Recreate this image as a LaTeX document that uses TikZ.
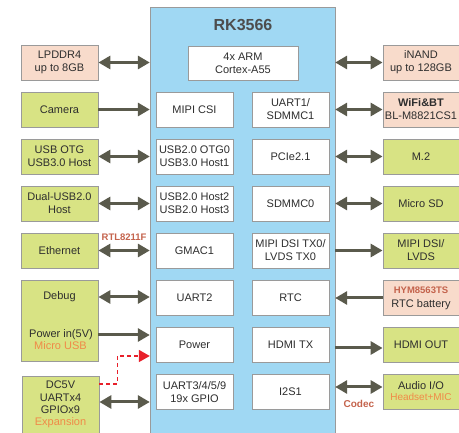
\documentclass[tikz,border=0pt]{standalone}
\usepackage{fontspec}
\setmainfont{Liberation Sans}
\usetikzlibrary{arrows.meta,calc}

\definecolor{chipblue}{HTML}{A0D8F3}
\definecolor{boxgreen}{HTML}{D8E384}
\definecolor{boxpeach}{HTML}{F8DBCB}
\definecolor{edgegray}{HTML}{9A9A9A}
\definecolor{arrowgray}{HTML}{5A5A4C}
\definecolor{txtgray}{HTML}{2E2E2E}
\definecolor{labelred}{HTML}{C4634C}
\definecolor{noteorange}{HTML}{F08A48}
\definecolor{dashred}{HTML}{E8202A}

\tikzset{
  blk/.style={draw=edgegray, line width=0.8pt, minimum width=77pt, minimum height=35pt,
    inner sep=0pt, align=center, text=txtgray, font=\fontsize{11}{13}\selectfont},
  inblk/.style={blk, fill=white},
  grnblk/.style={blk, fill=boxgreen},
  pchblk/.style={blk, fill=boxpeach},
  link/.style={arrowgray, line width=3pt, -{Triangle[length=12pt,width=13pt]}},
  dlink/.style={link, {Triangle[length=12pt,width=13pt]}-{Triangle[length=12pt,width=13pt]}},
  tag/.style={font=\fontsize{9.5}{11}\selectfont\bfseries, text=labelred},
  note/.style={text=noteorange},
  pwrdash/.style={dashred, line width=1.6pt, dash pattern=on 4pt off 3pt,
    -{Triangle[length=11pt,width=12pt]}}
}

\begin{document}
\begin{tikzpicture}[x=1pt,y=-1pt]
  \useasboundingbox (0,0) rectangle (459,433);

  % SoC
  \node[draw=edgegray, fill=chipblue, minimum width=185pt, minimum height=426pt, inner sep=0pt] (chip) at (242.5,220) {};
  \node[font=\fontsize{16}{16}\selectfont\bfseries, text=txtgray!85] (title) at (243,25) {RK3566};
  \node[inblk, minimum width=110pt, minimum height=34pt] (cpu) at (243,63) {4x ARM\\Cortex-A55};

  % inner blocks, left column
  \node[inblk] (csi) at (194.5,109.5) {MIPI CSI};
  \node[inblk] (usb0) at (194.5,156.5) {USB2.0 OTG0\\USB3.0 Host1};
  \node[inblk] (usb23) at (194.5,203.5) {USB2.0 Host2\\USB2.0 Host3};
  \node[inblk] (gmac) at (194.5,250.5) {GMAC1};
  \node[inblk] (uart2) at (194.5,298) {UART2};
  \node[inblk] (power) at (194.5,344.5) {Power};
  \node[inblk] (gpio) at (194.5,392) {UART3/4/5/9\\19x GPIO};

  % inner blocks, right column
  \node[inblk] (uart1) at (290.5,109.5) {UART1/\\SDMMC1};
  \node[inblk] (pcie) at (290.5,156.5) {PCIe2.1};
  \node[inblk] (sdmmc) at (290.5,203.5) {SDMMC0};
  \node[inblk] (dsi) at (290.5,250.5) {MIPI DSI TX0/\\LVDS TX0};
  \node[inblk] (rtc) at (290.5,298) {RTC};
  \node[inblk] (hdmitx) at (290.5,344.5) {HDMI TX};
  \node[inblk] (i2s) at (290.5,392) {I2S1};

  % left side peripherals
  \node[pchblk] (lpddr) at (59.5,62.5) {LPDDR4\\up to 8GB};
  \node[grnblk] (camera) at (59.5,109.5) {Camera};
  \node[grnblk] (usbotg) at (59.5,156.5) {USB OTG\\USB3.0 Host};
  \node[grnblk] (dualusb) at (59.5,203.5) {Dual-USB2.0\\Host};
  \node[grnblk] (eth) at (59.5,250.5) {Ethernet};
  \node[grnblk, minimum height=81pt] (debugbox) at (59.5,320.5) {};
  \node[text=txtgray, font=\fontsize{11}{13}\selectfont] (debug) at (59.5,297) {Debug};
  \node[text=txtgray, font=\fontsize{11}{13}\selectfont, inner sep=0pt] (pwrin) at (61,335) {Power in(5V)};
  \node[note, font=\fontsize{11}{13}\selectfont, inner sep=0pt] (microusb) at (60.5,346) {Micro USB};
  \node[grnblk, minimum height=57pt, font=\fontsize{11}{12.3}\selectfont] (expbox) at (60.5,404.5)
    {DC5V\\UARTx4\\GPIOx9\\\textcolor{noteorange}{Expansion}};

  % right side peripherals
  \node[pchblk, minimum width=76pt] (inand) at (421,62.5) {iNAND\\up to 128GB};
  \node[pchblk, minimum width=76pt] (wifi) at (421,109.5) {\textbf{WiFi\&BT}\\BL-M8821CS1};
  \node[grnblk, minimum width=76pt] (mdot2) at (421,156.5) {M.2};
  \node[grnblk, minimum width=76pt] (microsd) at (421,203.5) {Micro SD};
  \node[grnblk, minimum width=76pt] (dsiout) at (421,250.5) {MIPI DSI/\\LVDS};
  \node[pchblk, minimum width=76pt, font=\fontsize{11}{14}\selectfont] (rtcbat) at (421,298)
    {\textcolor{labelred}{\bfseries\fontsize{9.5}{11}\selectfont HYM8563TS}\\RTC battery};
  \node[grnblk, minimum width=76pt] (hdmiout) at (421,344.5) {HDMI OUT};
  \node[grnblk, minimum width=76pt, font=\fontsize{11}{11}\selectfont] (audio) at (421,391.5)
    {Audio I/O\\\textcolor{noteorange}{\fontsize{10}{11}\selectfont Headset+MIC}};

  % left connectors
  \draw[dlink] (lpddr.east) -- (chip.west |- lpddr.east);
  \draw[link] (camera.east) -- (chip.west |- camera.east);
  \draw[dlink] (usbotg.east) -- (chip.west |- usbotg.east);
  \draw[dlink] (dualusb.east) -- (chip.west |- dualusb.east);
  \draw[dlink] (eth.east) -- node[tag, above=5.5pt] (phy) {RTL8211F} (chip.west |- eth.east);
  \draw[dlink] (debugbox.east |- debug) -- (chip.west |- debug);
  \draw[link] (debugbox.east |- pwrin) -- (chip.west |- pwrin);
  \coordinate (expio) at ($(expbox.east)+(0,-2.5)$);
  \draw[dlink] (expio) -- (chip.west |- expio);
  \coordinate (dcin) at ($(expbox.east)+(0,-20.5)$);
  \coordinate (pwrtap) at ($(chip.west |- power.west)+(0,11.5)$);
  \draw[pwrdash] (dcin) -- ++(18,0) |- (pwrtap);

  % right connectors
  \draw[dlink] (chip.east |- inand.west) -- (inand.west);
  \draw[dlink] (chip.east |- wifi.west) -- (wifi.west);
  \draw[dlink] (chip.east |- mdot2.west) -- (mdot2.west);
  \draw[dlink] (chip.east |- microsd.west) -- (microsd.west);
  \draw[link] (chip.east |- dsiout.west) -- (dsiout.west);
  \draw[link] (rtcbat.west) -- (chip.east |- rtcbat.west);
  \coordinate (hdmitap) at ($(hdmiout.west)+(0,3.5)$);
  \draw[link] (chip.east |- hdmitap) -- (hdmitap);
  \coordinate (audiotap) at ($(audio.west)+(0,-4.5)$);
  \draw[dlink] (chip.east |- audiotap) -- node[tag, font=\fontsize{10}{11}\selectfont\bfseries, below=8pt] (codec) {Codec} (audiotap);
\end{tikzpicture}
\end{document}
